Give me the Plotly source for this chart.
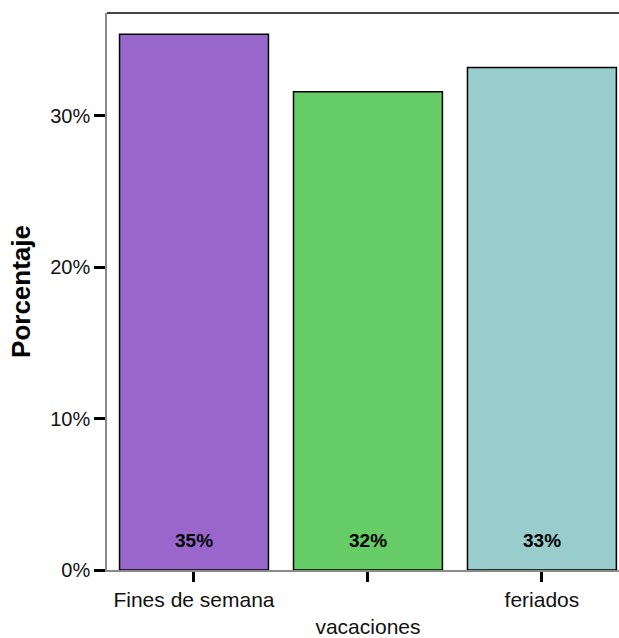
import plotly.graph_objects as go

categories = ["Fines de semana", "vacaciones", "feriados"]
tick_labels = ["Fines de semana", "<br>vacaciones", "feriados"]
percent_values = [35.4, 31.6, 33.2]
bar_colors = ["#9966CC", "#66CC66", "#99CCCC"]
y_tick_values = [0, 10, 20, 30]
y_tick_labels = ["0%", "10%", "20%", "30%"]

fig = go.Figure()
fig.add_trace(go.Bar(
    x=categories,
    y=percent_values,
    marker=dict(color=bar_colors, line=dict(color="black", width=1.5)),
    width=0.856,
    hoverinfo="skip",
))

for cat, val in zip(categories, percent_values):
    fig.add_annotation(
        x=cat, y=0, text=f"<b>{round(val)}%</b>", showarrow=False,
        yanchor="bottom", yshift=17,
        font=dict(family="Liberation Sans, Arial", size=19, color="black"),
    )

fig.update_layout(
    width=619, height=638,
    margin=dict(l=107, r=0, t=13, b=66),
    paper_bgcolor="white", plot_bgcolor="white",
    showlegend=False,
    font=dict(family="Liberation Sans, Arial", color="black"),
)
fig.update_xaxes(
    range=[-0.5, 2.443],
    tickmode="array", tickvals=categories, ticktext=tick_labels,
    ticks="outside", ticklen=10, tickwidth=3, tickcolor="black",
    tickfont=dict(size=21, color="#111"),
    showline=True, linecolor="#8a8a8a", linewidth=1.5, mirror=False,
    showgrid=False, zeroline=False,
)
fig.update_yaxes(
    range=[0, 36.8],
    tickmode="array", tickvals=y_tick_values, ticktext=y_tick_labels,
    ticks="outside", ticklen=11, tickwidth=3, tickcolor="black",
    tickfont=dict(size=20, color="#111"),
    showline=True, linecolor="#8a8a8a", linewidth=1.5,
    showgrid=False, zeroline=False,
    title=dict(text="<b>Porcentaje</b>", font=dict(size=26, color="black"), standoff=12),
)
fig.add_shape(type="line", xref="paper", yref="paper", x0=0, x1=1, y0=1, y1=1,
              line=dict(color="#444", width=2))

fig.write_html(
    "out.html",
    config={"displayModeBar": False},
    post_script="document.body.style.margin='0';document.body.style.overflow='hidden';",
)
